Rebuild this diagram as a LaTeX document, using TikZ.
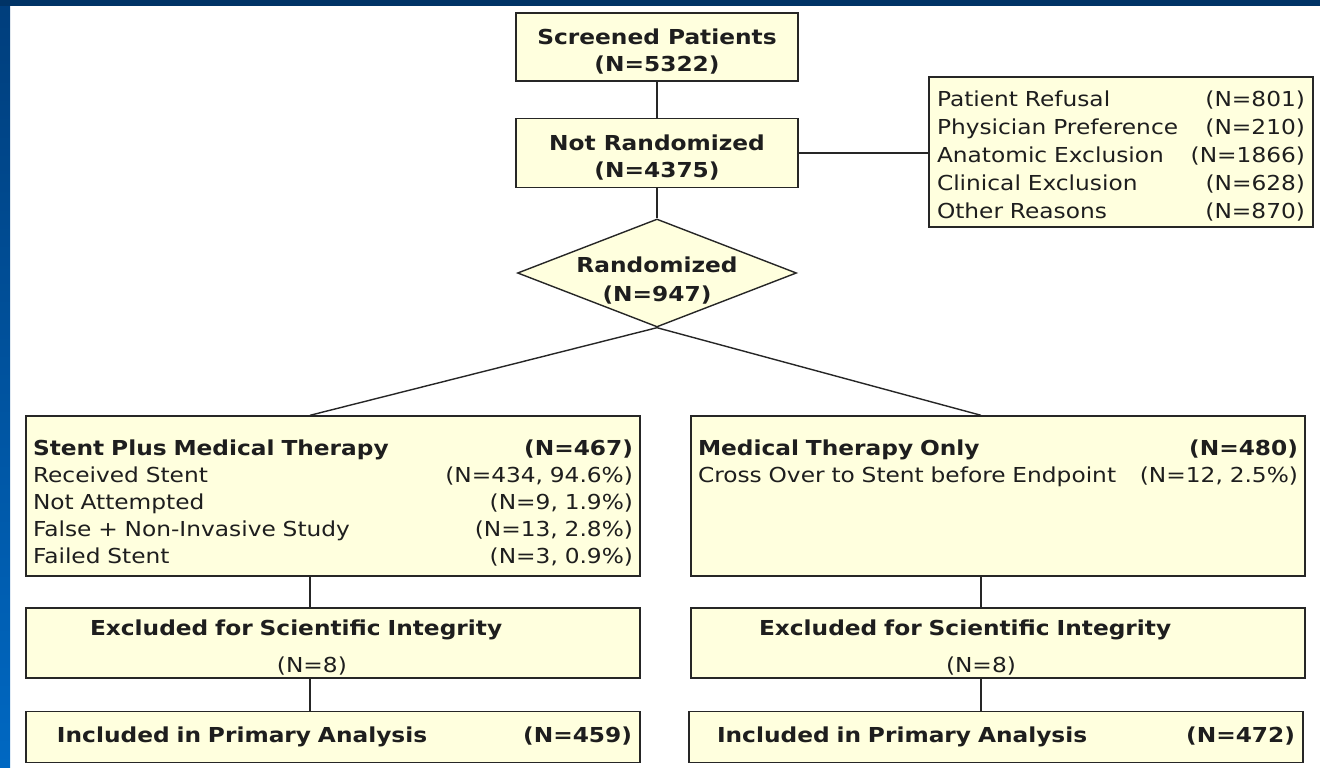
\documentclass[tikz,border=0pt]{standalone}
\usepackage{fontspec}
\setmainfont{DejaVu Sans}[FakeStretch=1.13]
\usetikzlibrary{shapes.geometric,positioning}
\definecolor{boxfill}{RGB}{255,255,222}
\definecolor{navyband}{RGB}{0,51,102}
\definecolor{sidetop}{RGB}{0,62,124}
\definecolor{sidebottom}{RGB}{0,104,194}
\definecolor{ink}{RGB}{30,30,30}
\newcommand{\pushright}{\hskip 0pt plus 1filll}
\newcommand{\lowstrut}{\rule{0pt}{24pt}}

\begin{document}
\begin{tikzpicture}[x=1pt,y=-1pt,
  every node/.style={font=\fontsize{20.6}{27}\selectfont,text=ink},
  flowbox/.style={draw=black!85,line width=1.4pt,fill=boxfill},
  link/.style={draw=black!85,line width=1.4pt},
  armbox/.style={flowbox,minimum width=614,minimum height=160},
  armtext/.style={text width=600,align=left},
  exbox/.style={flowbox,minimum width=614,minimum height=70,text width=598,align=left},
  inbox/.style={flowbox,minimum width=614,minimum height=51,text width=598,align=left}]
\useasboundingbox (0,0) rectangle (1320,768);
% frame
\fill[white] (0,0) rectangle (1320,768);
\shade[top color=sidetop,bottom color=sidebottom] (0,0) rectangle (10,768);
\fill[navyband] (0,0) rectangle (1320,6);

% top of the chart
\node[flowbox,minimum width=282,minimum height=68,align=center] (screen) at (657,47) {\lowstrut\textbf{Screened Patients}\\\textbf{(N=5322)}};
\node[flowbox,minimum width=282,minimum height=69,align=center] (notrand) at (657,153) {\lowstrut\textbf{Not Randomized}\\\textbf{(N=4375)}};
\node[flowbox,minimum width=384,minimum height=150,text width=368,align=left,font=\fontsize{20.6}{28}\selectfont] (reasons) at (1121,152) {\lowstrut Patient Refusal\pushright(N=801)\\Physician Preference\pushright(N=210)\\Anatomic Exclusion\pushright(N=1866)\\Clinical Exclusion\pushright(N=628)\\Other Reasons\pushright(N=870)};
\node[flowbox,diamond,aspect=2.58,inner sep=0pt,minimum width=279,minimum height=108] (rand) at (657,273) {};
\node[align=center,font=\fontsize{20.6}{29}\selectfont] (randtxt) at ([yshift=-8pt]rand.center) {\textbf{Randomized}\\\textbf{(N=947)}};

% the two arms
\node[armbox] (stent) at (333,496) {};
\node[armtext,below=21pt of stent.north] (stenttxt) {\textbf{Stent Plus Medical Therapy}\pushright\textbf{(N=467)}\\Received Stent\pushright(N=434, 94.6\%)\\Not Attempted\pushright(N=9, 1.9\%)\\False + Non-Invasive Study\pushright(N=13, 2.8\%)\\Failed Stent\pushright(N=3, 0.9\%)};
\node[armbox] (medonly) at (998,496) {};
\node[armtext,below=21pt of medonly.north] (medtxt) {\textbf{Medical Therapy Only}\pushright\textbf{(N=480)}\\Cross Over to Stent before Endpoint\pushright(N=12, 2.5\%)};

\node[exbox] (exclL) at (333,643) {\lowstrut\hspace*{56pt}\textbf{Excluded for Scientific Integrity}\\[10pt]\hspace*{243pt}(N=8)};
\node[exbox] (exclR) at (998,643) {\lowstrut\hspace*{60pt}\textbf{Excluded for Scientific Integrity}\\[10pt]\hspace*{247pt}(N=8)};
\node[inbox] (inclL) at (333,737) {\hspace*{23pt}\textbf{Included in Primary Analysis}\pushright\textbf{(N=459)}};
\node[inbox] (inclR) at (996,737) {\hspace*{20pt}\textbf{Included in Primary Analysis}\pushright\textbf{(N=472)}};

% connectors
\coordinate (lsplit) at (310,0);
\coordinate (rsplit) at (981,0);
\draw[link] (screen) -- (notrand);
\draw[link] (notrand) -- (rand);
\draw[link] (notrand.east) -- (notrand.east -| reasons.west);
\draw[link] (rand.south) -- (stent.north -| lsplit);
\draw[link] (rand.south) -- (medonly.north -| rsplit);
\draw[link] (stent.south -| lsplit) -- (exclL.north -| lsplit);
\draw[link] (exclL.south -| lsplit) -- (inclL.north -| lsplit);
\draw[link] (medonly.south -| rsplit) -- (exclR.north -| rsplit);
\draw[link] (exclR.south -| rsplit) -- (inclR.north -| rsplit);
\end{tikzpicture}
\end{document}
